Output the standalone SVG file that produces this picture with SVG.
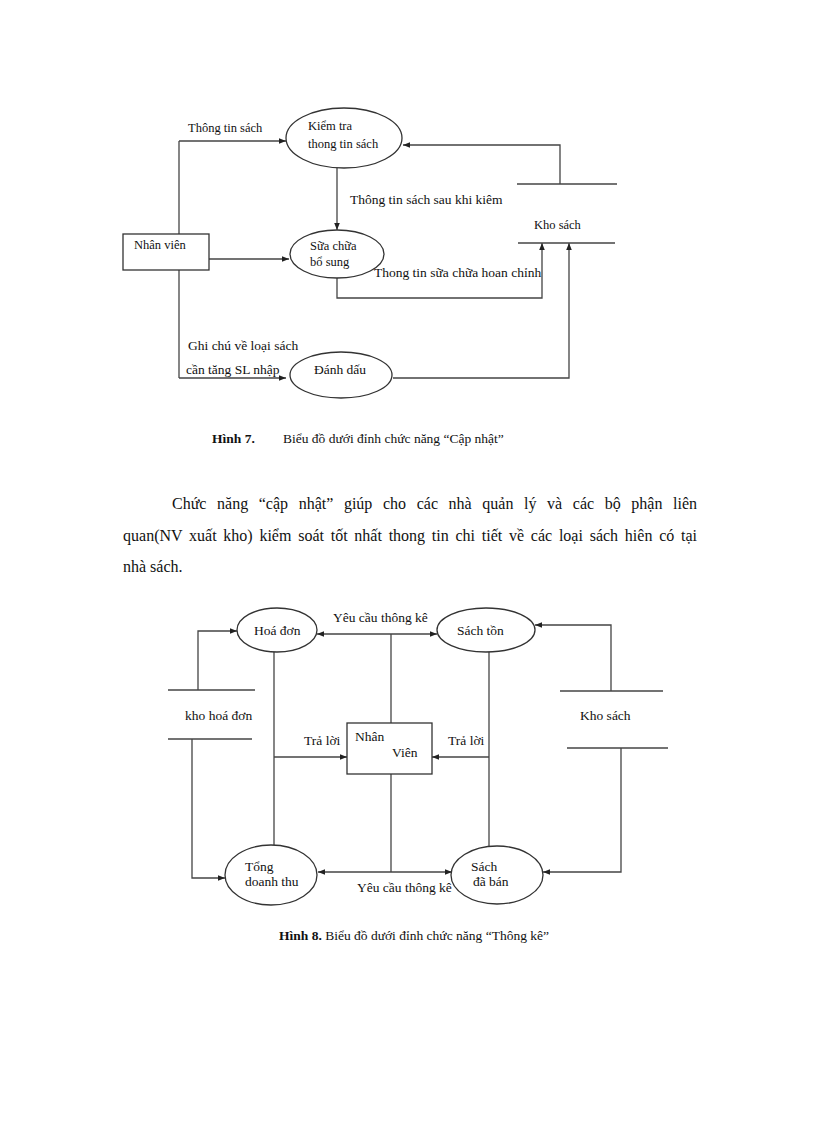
<svg xmlns="http://www.w3.org/2000/svg" width="816" height="1123" viewBox="0 0 816 1123">
<defs>
<marker id="ah" viewBox="0 0 10 10" refX="10" refY="5" markerWidth="7" markerHeight="7" orient="auto-start-reverse" markerUnits="userSpaceOnUse">
<path d="M0,1 L10,5 L0,9 Z" fill="#222"/>
</marker>
<style>
text{font-family:"Liberation Serif","Times New Roman",serif;fill:#111}
.s{font-size:12.5px}
.t{font-size:13.5px}
.m{font-size:13.5px}
.p{font-size:16px}
.b{font-weight:bold}
.n{fill:#fff;stroke:#333;stroke-width:1.3}
.c{fill:none;stroke:#444;stroke-width:1.3}
.ar{marker-end:url(#ah)}
.ab{marker-start:url(#ah);marker-end:url(#ah)}
</style>
</defs>
<rect width="816" height="1123" fill="#fff"/>

<!-- Figure 7 -->
<g id="connectors7">
<path class="c ar" d="M179,141 H286"/>
<path class="c" d="M179,141 V378"/>
<path class="c ar" d="M179,378 H286"/>
<path class="c ar" d="M209,259 H289"/>
<path class="c ar" d="M337,168 V230"/>
<path class="c ar" d="M560,184 V145 H403"/>
<path class="c ar" d="M337,278 V298 H542 V243"/>
<path class="c ar" d="M393,378 H569 V243"/>
</g>
<g id="kiemtra"><ellipse class="n" cx="344" cy="138" rx="58" ry="30"/><text class="s" x="308" y="130">Kiểm tra</text><text class="s" x="308" y="148">thong tin sách</text></g>
<g id="nhanvien7"><rect class="n" x="123" y="234" width="86" height="36"/><text class="s" x="134" y="249">Nhân viên</text></g>
<g id="suachua"><ellipse class="n" cx="337" cy="254" rx="47" ry="24"/><text class="s" x="310" y="250">Sữa chữa</text><text class="s" x="310" y="266">bổ sung</text></g>
<g id="danhdau"><ellipse class="n" cx="341" cy="375" rx="51" ry="23"/><text class="t" x="314" y="374">Đánh dấu</text></g>
<g id="khosach7"><line class="c" x1="517" y1="184" x2="617" y2="184"/><line class="c" x1="518" y1="243" x2="615" y2="243"/><text class="s" x="534" y="229">Kho sách</text></g>
<g id="labels7">
<text class="s" x="188" y="132">Thông tin sách</text>
<text class="t" x="350" y="204">Thông tin sách sau khi kiêm</text>
<text class="t" x="374" y="277">Thong tin sữa chữa hoan chỉnh</text>
<text class="t" x="188" y="350">Ghi chú về loại sách</text>
<text class="t" x="186" y="374">cần tăng SL nhập</text>
<text class="t b" x="212" y="443">Hình 7.</text>
<text class="t" x="283" y="443">Biểu đồ dưới đỉnh chức năng “Cập nhật”</text>
</g>

<!-- Paragraph -->
<text class="p" x="172" y="509" word-spacing="6.6" textLength="525" lengthAdjust="spacing">Chức năng “cập nhật” giúp cho các nhà quản lý và các bộ phận liên</text>
<text class="p" x="123" y="541" word-spacing="2.7" textLength="574" lengthAdjust="spacing">quan(NV xuất kho) kiểm soát tốt nhất thong tin chi tiết về các loại sách hiên có tại</text>
<text class="p" x="123" y="572">nhà sách.</text>

<!-- Figure 8 -->
<g id="connectors8">
<path class="c ab" d="M317,634 H437"/>
<path class="c" d="M391,634 V723"/>
<path class="c ab" d="M318,872 H452"/>
<path class="c" d="M391,774 V872"/>
<path class="c" d="M274,652 V845"/>
<path class="c ar" d="M274,757 H347"/>
<path class="c" d="M489,652 V846"/>
<path class="c ar" d="M489,757 H432"/>
<path class="c ar" d="M198,690 V631 H237"/>
<path class="c ar" d="M192,739 V878 H225"/>
<path class="c ar" d="M611,691 V625 H535"/>
<path class="c ar" d="M621,748 V872 H543"/>
</g>
<g id="hoadon"><ellipse class="n" cx="277" cy="630" rx="40" ry="22"/><text class="m" x="254" y="635">Hoá đơn</text></g>
<g id="sachton"><ellipse class="n" cx="486" cy="630" rx="49" ry="22"/><text class="m" x="457" y="635">Sách tồn</text></g>
<g id="nhanvien8"><rect class="n" x="347" y="723" width="85" height="51"/><text class="m" x="355" y="741">Nhân</text><text class="m" x="392" y="757">Viên</text></g>
<g id="tongdoanhthu"><ellipse class="n" cx="271" cy="875" rx="46" ry="30"/><text class="m" x="245" y="871">Tổng</text><text class="m" x="245" y="886">doanh thu</text></g>
<g id="sachdaban"><ellipse class="n" cx="497" cy="875" rx="46" ry="29"/><text class="m" x="471" y="871">Sách</text><text class="m" x="473" y="886">đã bán</text></g>
<g id="khohoadon"><line class="c" x1="168" y1="690" x2="255" y2="690"/><line class="c" x1="168" y1="739" x2="252" y2="739"/><text class="m" x="185" y="720">kho hoá đơn</text></g>
<g id="khosach8"><line class="c" x1="560" y1="691" x2="663" y2="691"/><line class="c" x1="567" y1="748" x2="668" y2="748"/><text class="m" x="580" y="720">Kho sách</text></g>
<g id="labels8">
<text class="m" x="333" y="622">Yêu cầu thông kê</text>
<text class="m" x="357" y="892">Yêu cầu thông kê</text>
<text class="m" x="304" y="745">Trả lời</text>
<text class="m" x="448" y="745">Trả lời</text>
<text class="m" x="279" y="940"><tspan class="b">Hình 8.</tspan> Biểu đồ dưới đỉnh chức năng “Thông kê”</text>
</g>
</svg>
